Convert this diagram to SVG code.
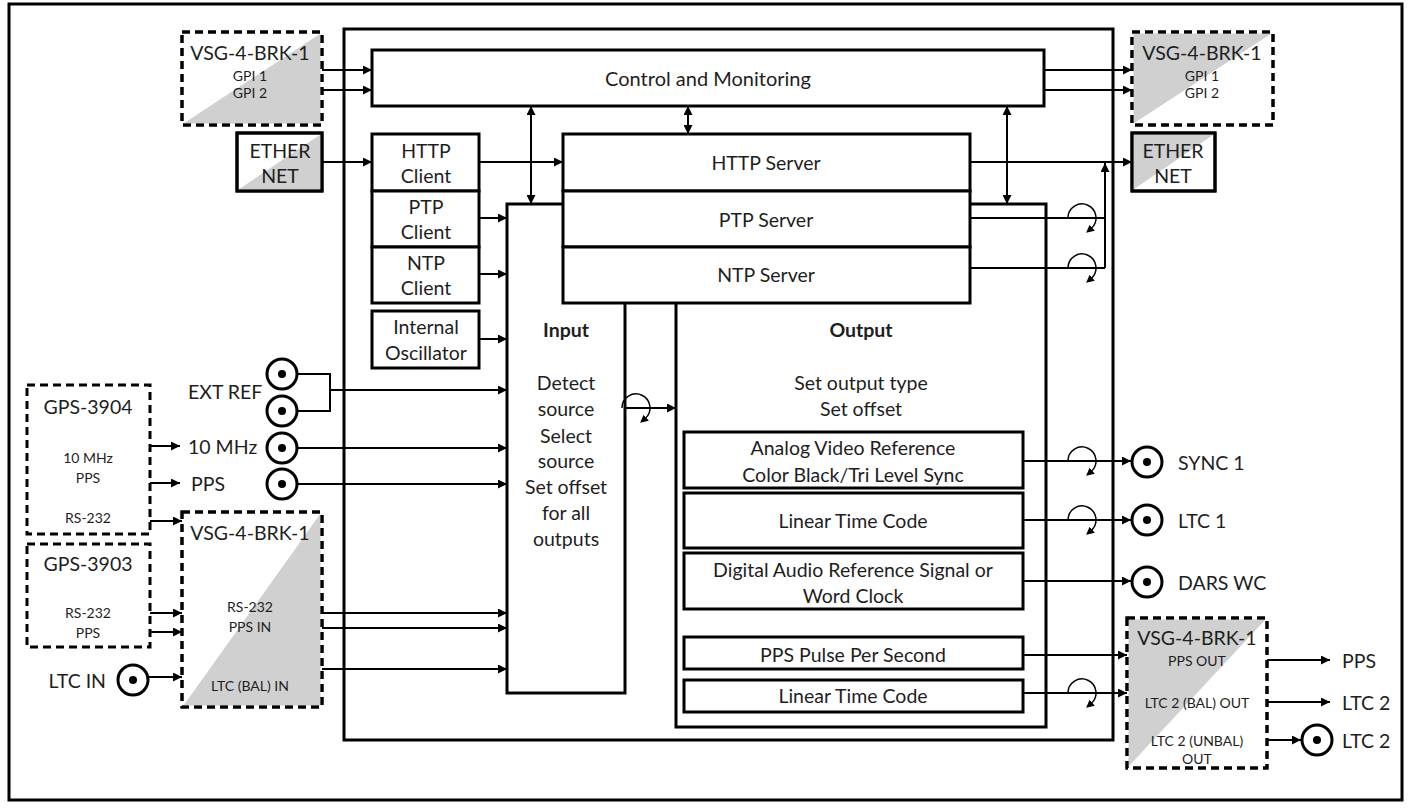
<svg xmlns="http://www.w3.org/2000/svg" xmlns:xlink="http://www.w3.org/1999/xlink" width="1413" height="808" viewBox="0 0 1413 808">
<style>
text{font-family:Lato,"Liberation Sans",sans-serif;fill:#1e1e1e;text-anchor:middle;dominant-baseline:central}
.box{fill:#fff;stroke:#000;stroke-width:3}
.dash{fill:#fff;stroke:#000;stroke-width:3;stroke-dasharray:8 5}
.gray{fill:#d0d0d0;stroke:none}
.ln{fill:none;stroke:#000;stroke-width:2}
.a{marker-end:url(#arr)}
.d{marker-end:url(#arr);marker-start:url(#arr)}
.ring{fill:#fff;stroke:#000;stroke-width:3}
.dot{fill:#000}
.t18{font-size:20px}
.t17{font-size:19.5px}
.t12{font-size:14px}
.b{font-weight:bold}
.st{text-anchor:start}
.en{text-anchor:end}
</style>
<defs>
<marker id="arr" viewBox="0 0 10 10" refX="10" refY="5" markerWidth="9" markerHeight="9" markerUnits="userSpaceOnUse" orient="auto-start-reverse"><path d="M0,0 L10,5 L0,10 z" fill="#000"/></marker>
<marker id="arrs" viewBox="0 0 10 10" refX="2" refY="5" markerWidth="8" markerHeight="8" markerUnits="userSpaceOnUse" orient="auto"><path d="M0,0 L10,5 L0,10 z" fill="#000"/></marker>
<g id="ph"><path d="M-14,0 A14,14 0 1 1 9,10.7" fill="none" stroke="#000" stroke-width="1.5" marker-end="url(#arrs)"/></g>
<g id="bnc"><circle class="ring" r="15"/><circle class="dot" r="4"/></g>
</defs>

<rect id="frame" x="9" y="4" width="1393" height="796" fill="#fff" stroke="#000" stroke-width="3"/>
<rect id="main" x="344" y="29" width="769" height="711" fill="none" stroke="#000" stroke-width="3"/>

<g id="control"><rect class="box" x="372" y="50" width="672" height="56"/><text class="t18" x="708" y="78">Control and Monitoring</text></g>

<g id="vsg-tl"><rect class="dash" x="182" y="32" width="140" height="93"/><path class="gray" d="M183.5,123.5 L320.5,33.5 L320.5,123.5 z"/><rect class="dash" x="182" y="32" width="140" height="93" style="fill:none"/><text class="t17" x="250" y="52">VSG-4-BRK-1</text><text class="t12" x="250" y="75">GPI 1</text><text class="t12" x="250" y="92">GPI 2</text></g>
<g id="ether-l"><rect class="box" x="237" y="133" width="85" height="58"/><path class="gray" d="M238.5,189.5 L320.5,134.5 L320.5,189.5 z"/><rect x="237" y="133" width="85" height="58" fill="none" stroke="#000" stroke-width="3"/><text class="t17" x="280" y="150">ETHER</text><text class="t17" x="280" y="175">NET</text></g>

<g id="vsg-tr"><rect class="dash" x="1132" y="32" width="141" height="93"/><path class="gray" d="M1133.5,33.5 L1271.5,33.5 L1133.5,123.5 z"/><rect class="dash" x="1132" y="32" width="141" height="93" style="fill:none"/><text class="t17" x="1202" y="52">VSG-4-BRK-1</text><text class="t12" x="1202" y="75">GPI 1</text><text class="t12" x="1202" y="92">GPI 2</text></g>
<g id="ether-r"><rect class="box" x="1132" y="133" width="83" height="58"/><path class="gray" d="M1133.5,134.5 L1213.5,134.5 L1133.5,189.5 z"/><rect x="1132" y="133" width="83" height="58" fill="none" stroke="#000" stroke-width="3"/><text class="t17" x="1173" y="150">ETHER</text><text class="t17" x="1173" y="175">NET</text></g>

<g id="http-client"><rect class="box" x="372" y="134" width="107" height="57"/><text class="t17" x="426" y="150">HTTP</text><text class="t17" x="426" y="175">Client</text></g>
<g id="ptp-client"><rect class="box" x="372" y="191" width="107" height="56"/><text class="t17" x="426" y="206">PTP</text><text class="t17" x="426" y="231">Client</text></g>
<g id="ntp-client"><rect class="box" x="372" y="247" width="107" height="56"/><text class="t17" x="426" y="262">NTP</text><text class="t17" x="426" y="287">Client</text></g>
<g id="oscillator"><rect class="box" x="372" y="311" width="107" height="57"/><text class="t17" x="426" y="326">Internal</text><text class="t17" x="426" y="352">Oscillator</text></g>

<g id="input"><rect class="box" x="507" y="204" width="118" height="489"/><text class="t17 b" x="566" y="329">Input</text><text class="t17" x="566" y="382">Detect</text><text class="t17" x="566" y="408">source</text><text class="t17" x="566" y="435">Select</text><text class="t17" x="566" y="460">source</text><text class="t17" x="566" y="486">Set offset</text><text class="t17" x="566" y="512">for all</text><text class="t17" x="566" y="538">outputs</text></g>

<g id="output"><rect class="box" x="676" y="204" width="370" height="523"/><text class="t17 b" x="861" y="329">Output</text><text class="t17" x="861" y="382">Set output type</text><text class="t17" x="861" y="408">Set offset</text></g>

<g id="servers">
<rect class="box" x="563" y="134" width="407" height="57"/><text class="t17" x="766" y="162">HTTP Server</text>
<rect class="box" x="563" y="191" width="407" height="56"/><text class="t17" x="766" y="219">PTP Server</text>
<rect class="box" x="563" y="247" width="407" height="56"/><text class="t17" x="766" y="274">NTP Server</text>
</g>

<g id="analog"><rect class="box" x="684" y="432" width="339" height="56"/><text class="t17" x="853" y="447">Analog Video Reference</text><text class="t17" x="853" y="474">Color Black/Tri Level Sync</text></g>
<g id="ltc1-box"><rect class="box" x="684" y="493" width="339" height="55"/><text class="t17" x="853" y="520">Linear Time Code</text></g>
<g id="dars"><rect class="box" x="684" y="553" width="339" height="56"/><text class="t17" x="853" y="569">Digital Audio Reference Signal or</text><text class="t17" x="853" y="595">Word Clock</text></g>
<g id="pps-box"><rect class="box" x="684" y="637" width="339" height="32"/><text class="t17" x="853" y="654">PPS Pulse Per Second</text></g>
<g id="ltc2-box"><rect class="box" x="684" y="680" width="339" height="32"/><text class="t17" x="853" y="695">Linear Time Code</text></g>

<g id="gps3904"><rect class="dash" x="27" y="385" width="123" height="149"/><text class="t17" x="88" y="406">GPS-3904</text><text class="t12" x="88" y="457">10 MHz</text><text class="t12" x="88" y="477">PPS</text><text class="t12" x="88" y="517">RS-232</text></g>
<g id="gps3903"><rect class="dash" x="27" y="544" width="123" height="103"/><text class="t17" x="88" y="563">GPS-3903</text><text class="t12" x="88" y="612">RS-232</text><text class="t12" x="88" y="632">PPS</text></g>

<g id="vsg-mid"><rect class="dash" x="182" y="512" width="140" height="195"/><path class="gray" d="M183.5,705.5 L320.5,513.5 L320.5,705.5 z"/><rect class="dash" x="182" y="512" width="140" height="195" style="fill:none"/><text class="t17" x="250" y="532">VSG-4-BRK-1</text><text class="t12" x="250" y="606">RS-232</text><text class="t12" x="250" y="626">PPS IN</text><text class="t12" x="250" y="685">LTC (BAL) IN</text></g>

<g id="vsg-br"><rect class="dash" x="1127" y="618" width="140" height="150"/><path class="gray" d="M1128.5,619.5 L1265.5,619.5 L1128.5,766.5 z"/><rect class="dash" x="1127" y="618" width="140" height="150" style="fill:none"/><text class="t17" x="1197" y="637">VSG-4-BRK-1</text><text class="t12" x="1197" y="660">PPS OUT</text><text class="t12" x="1197" y="702">LTC 2 (BAL) OUT</text><text class="t12" x="1197" y="740">LTC 2 (UNBAL)</text><text class="t12" x="1197" y="758">OUT</text></g>

<g id="connectors">
<path class="ln a" d="M322,70 H372"/>
<path class="ln a" d="M322,90 H372"/>
<path class="ln a" d="M322,162 H372"/>
<path class="ln a" d="M479,162 H563"/>
<path class="ln a" d="M479,218 H507"/>
<path class="ln a" d="M479,274 H507"/>
<path class="ln a" d="M479,339 H507"/>
<path class="ln d" d="M531,106 V204"/>
<path class="ln d" d="M688,106 V134"/>
<path class="ln d" d="M1007,106 V204"/>
<path class="ln a" d="M1044,70 H1132"/>
<path class="ln a" d="M1044,90 H1132"/>
<path class="ln a" d="M970,162 H1132"/>
<path class="ln" d="M970,218 H1105"/>
<path class="ln" d="M970,268 H1105"/>
<path class="ln a" d="M1105,268 V163"/>
<path class="ln" d="M298,374 H330 V411 H298"/>
<path class="ln a" d="M330,390 H507"/>
<path class="ln a" d="M298,448 H507"/>
<path class="ln a" d="M298,484 H507"/>
<path class="ln a" d="M150,446 H180"/>
<path class="ln a" d="M150,483 H180"/>
<path class="ln a" d="M150,521 H182"/>
<path class="ln a" d="M150,613 H182"/>
<path class="ln a" d="M150,632 H182"/>
<path class="ln a" d="M149,677 H182"/>
<path class="ln a" d="M322,613 H507"/>
<path class="ln a" d="M322,628 H507"/>
<path class="ln a" d="M322,669 H507"/>
<path class="ln a" d="M625,408 H676"/>
<path class="ln a" d="M1023,461 H1131"/>
<path class="ln a" d="M1023,520 H1131"/>
<path class="ln a" d="M1023,581 H1131"/>
<path class="ln a" d="M1023,655 H1127"/>
<path class="ln a" d="M1023,693 H1127"/>
<path class="ln a" d="M1267,660 H1330"/>
<path class="ln a" d="M1267,702 H1330"/>
<path class="ln a" d="M1267,740 H1301"/>
<use xlink:href="#ph" x="1082" y="218"/>
<use xlink:href="#ph" x="1082" y="268"/>
<use xlink:href="#ph" x="636" y="408"/>
<use xlink:href="#ph" x="1082" y="461"/>
<use xlink:href="#ph" x="1082" y="520"/>
<use xlink:href="#ph" x="1082" y="693"/>
</g>

<g id="inputs-bnc">
<use xlink:href="#bnc" x="282" y="374"/><use xlink:href="#bnc" x="282" y="411"/><use xlink:href="#bnc" x="282" y="448"/><use xlink:href="#bnc" x="282" y="484"/>
<text class="t17 st" x="188" y="391">EXT REF</text><text class="t17 st" x="188" y="446">10 MHz</text><text class="t17 st" x="191" y="483">PPS</text>
</g>
<g id="ltc-in"><use xlink:href="#bnc" x="133" y="680"/><text class="t17 en" x="106" y="680">LTC IN</text></g>

<g id="outputs-bnc">
<use xlink:href="#bnc" x="1147" y="462"/><text class="t17 st" x="1178" y="462">SYNC 1</text>
<use xlink:href="#bnc" x="1147" y="520"/><text class="t17 st" x="1178" y="520">LTC 1</text>
<use xlink:href="#bnc" x="1147" y="582"/><text class="t17 st" x="1178" y="582">DARS WC</text>
</g>

<g id="outputs-right"><text class="t17 st" x="1342" y="660">PPS</text><text class="t17 st" x="1342" y="702">LTC 2</text><use xlink:href="#bnc" x="1317" y="740"/><text class="t17 st" x="1342" y="740">LTC 2</text></g>
</svg>
